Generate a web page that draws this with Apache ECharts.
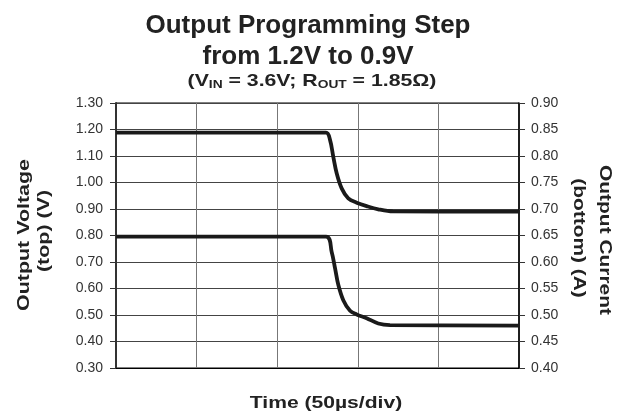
<!DOCTYPE html>
<html>
<head>
<meta charset="utf-8">
<script src="https://cdn.jsdelivr.net/npm/echarts@6/dist/echarts.min.js"></script>
<style>html,body{margin:0;padding:0;background:#fff}#c{width:624px;height:419px}</style>
</head>
<body>
<div id="c"></div>
<script>
var timeV = [0, 130.3, 132.8, 134.8, 136.9, 140.0, 144.1, 149.3, 155.5, 162.7, 171.8, 250];
var voltage = [1.188, 1.188, 1.160, 1.097, 1.035, 0.978, 0.940, 0.924, 0.911, 0.899, 0.891, 0.890];
var timeI = [0, 130.3, 133.8, 135.9, 137.9, 141.0, 145.2, 149.3, 155.5, 162.7, 170.0, 250];
var current = [0.648, 0.648, 0.619, 0.588, 0.557, 0.528, 0.508, 0.501, 0.494, 0.484, 0.481, 0.480];
var leftTicks = ['0.30','0.40','0.50','0.60','0.70','0.80','0.90','1.00','1.10','1.20','1.30'];
var rightTicks = ['0.40','0.45','0.50','0.55','0.60','0.65','0.70','0.75','0.80','0.85','0.90'];

function pairs(xs, ys){ return xs.map(function(x,i){ return [x, ys[i]]; }); }

var chart = echarts.init(document.getElementById('c'));
var font = 'Liberation Sans, Arial, sans-serif';
var nameStyle = { fontFamily: font, fontSize: 17, fontWeight: 'bold', fill: '#222', textAlign: 'center', textVerticalAlign: 'middle' };
function label(text, x, y, rot, sx){
  return { type: 'text', x: x, y: y, rotation: rot, scaleX: sx, silent: true,
    style: Object.assign({ text: text }, nameStyle) };
}
chart.setOption({
  animation: false,
  backgroundColor: '#fff',
  title: {
    text: 'Output Programming Step\nfrom 1.2V to 0.9V',
    left: 303, textAlign: 'center', top: 5,
    textStyle: { fontFamily: font, fontSize: 26, fontWeight: 'bold', color: '#222', lineHeight: 31 }
  },
  graphic: [
    { type: 'text', x: 312, y: 81, scaleX: 1.25, silent: true,
      style: { text: '(V{s|IN} = 3.6V; R{s|OUT} = 1.85Ω)', fontFamily: font, fontSize: 17, fontWeight: 'bold', fill: '#222',
        textAlign: 'center', textVerticalAlign: 'middle',
        rich: { s: { fontFamily: font, fontSize: 11, fontWeight: 'bold', fill: '#222', verticalAlign: 'bottom', padding: [8,0,0,0] } } } },
    label('Output Voltage', 24, 235, Math.PI/2, 1.26),
    label('(top) (V)', 44, 231, Math.PI/2, 1.26),
    label('Output Current', 605, 240, -Math.PI/2, 1.23),
    label('(bottom) (A)', 579, 238, -Math.PI/2, 1.23),
    label('Time (50µs/div)', 326, 403, 0, 1.24)
  ],
  grid: { left: 116, right: 105, top: 103, bottom: 51, show: true, borderColor: '#000', borderWidth: 1 },
  xAxis: {
    type: 'value', min: 0, max: 250, interval: 50,
    axisLabel: { show: false }, axisTick: { show: false },
    axisLine: { lineStyle: { color: '#000', width: 1 } },
    splitLine: { lineStyle: { color: '#777', width: 1 } }
  },
  yAxis: [{
    type: 'value', min: 0.3, max: 1.3, interval: 0.1,
    axisLine: { show: true, lineStyle: { color: '#333', width: 2 } },
    axisTick: { show: true, length: 6, lineStyle: { color: '#333' } },
    axisLabel: { fontFamily: font, fontSize: 14, color: '#333', margin: 13,
      formatter: function(v){ return leftTicks[Math.round((v-0.3)*10)]; } },
    splitLine: { lineStyle: { color: '#444', width: 1 } }
  }, {
    type: 'value', min: 0.4, max: 0.9, interval: 0.05, position: 'right',
    axisLine: { show: true, lineStyle: { color: '#000', width: 1.5 } },
    axisTick: { show: true, length: 6, lineStyle: { color: '#333' } },
    axisLabel: { fontFamily: font, fontSize: 14, color: '#333', margin: 12,
      formatter: function(v){ return rightTicks[Math.round((v-0.4)*20)]; } },
    splitLine: { show: false }
  }],
  series: [{
    type: 'line', yAxisIndex: 0, data: pairs(timeV, voltage), showSymbol: false, smooth: 0.35,
    lineStyle: { color: '#1a1a1a', width: 3.8 }
  }, {
    type: 'line', yAxisIndex: 1, data: pairs(timeI, current), showSymbol: false, smooth: 0.35,
    lineStyle: { color: '#1a1a1a', width: 3.8 }
  }]
});
</script>
</body>
</html>
